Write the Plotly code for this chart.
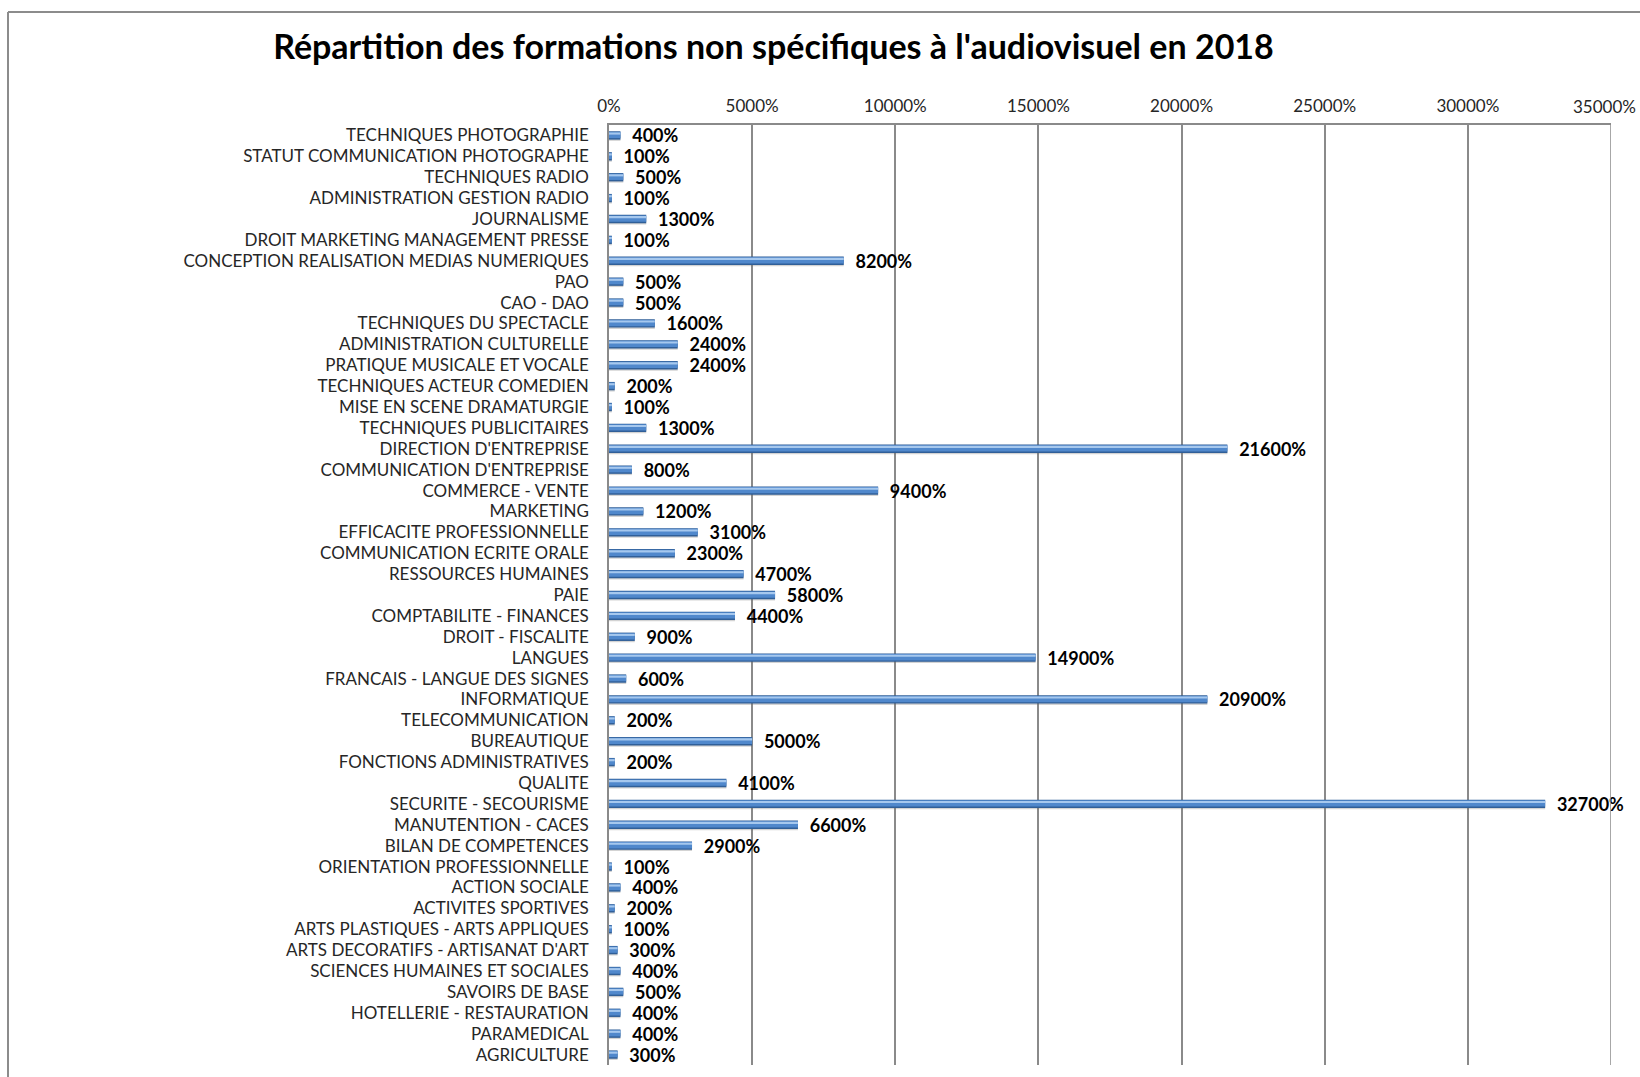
import plotly.graph_objects as go

# Training categories (top to bottom) and their counts, shown as percentages
categories = [
    "TECHNIQUES PHOTOGRAPHIE",
    "STATUT COMMUNICATION PHOTOGRAPHE",
    "TECHNIQUES RADIO",
    "ADMINISTRATION GESTION RADIO",
    "JOURNALISME",
    "DROIT MARKETING MANAGEMENT PRESSE",
    "CONCEPTION REALISATION MEDIAS NUMERIQUES",
    "PAO",
    "CAO - DAO",
    "TECHNIQUES DU SPECTACLE",
    "ADMINISTRATION CULTURELLE",
    "PRATIQUE MUSICALE ET VOCALE",
    "TECHNIQUES ACTEUR COMEDIEN",
    "MISE EN SCENE DRAMATURGIE",
    "TECHNIQUES PUBLICITAIRES",
    "DIRECTION D'ENTREPRISE",
    "COMMUNICATION D'ENTREPRISE",
    "COMMERCE - VENTE",
    "MARKETING",
    "EFFICACITE PROFESSIONNELLE",
    "COMMUNICATION ECRITE ORALE",
    "RESSOURCES HUMAINES",
    "PAIE",
    "COMPTABILITE - FINANCES",
    "DROIT - FISCALITE",
    "LANGUES",
    "FRANCAIS - LANGUE DES SIGNES",
    "INFORMATIQUE",
    "TELECOMMUNICATION",
    "BUREAUTIQUE",
    "FONCTIONS ADMINISTRATIVES",
    "QUALITE",
    "SECURITE - SECOURISME",
    "MANUTENTION - CACES",
    "BILAN DE COMPETENCES",
    "ORIENTATION PROFESSIONNELLE",
    "ACTION SOCIALE",
    "ACTIVITES SPORTIVES",
    "ARTS PLASTIQUES - ARTS APPLIQUES",
    "ARTS DECORATIFS - ARTISANAT D'ART",
    "SCIENCES HUMAINES ET SOCIALES",
    "SAVOIRS DE BASE",
    "HOTELLERIE - RESTAURATION",
    "PARAMEDICAL",
    "AGRICULTURE",
]

values = [
    400, 100, 500, 100, 1300, 100, 8200, 500, 500, 1600,
    2400, 2400, 200, 100, 1300, 21600, 800, 9400, 1200, 3100,
    2300, 4700, 5800, 4400, 900, 14900, 600, 20900, 200, 5000,
    200, 4100, 32700, 6600, 2900, 100, 400, 200, 100, 300,
    400, 500, 400, 400, 300,
]

tick_values = [0, 5000, 10000, 15000, 20000, 25000, 30000, 35000]
tick_labels = ["0%", "5000%", "10000%", "15000%", "20000%", "25000%", "30000%", "35000%"]

title_text = "Répartition des formations non spécifiques à l'audiovisuel en 2018"

W, H = 1640, 1077
L, R, T, B = 609, 1611, 125, 1065  # plot area in pixels


def px_x(p):
    return (p - L) / (R - L)


def px_y(p):
    return (B - p) / (B - T)


FONT = "Lato"
GRID = "#8a8a8a"
TICK_FONT = dict(family=FONT, size=17, color="#262626")

fig = go.Figure()

# soft drop shadow under each bar
fig.add_trace(go.Bar(
    y=categories, x=values, orientation="h",
    width=0.38, offset=-0.12,
    marker=dict(color="rgba(110,110,110,0.30)", line=dict(width=0)),
    hoverinfo="skip", showlegend=False,
))
# dark outer body of the cylinder
fig.add_trace(go.Bar(
    y=categories, x=values, orientation="h",
    width=0.40, offset=-0.20,
    marker=dict(color="#305F98", line=dict(width=0)),
    texttemplate="\u00a0\u00a0%{x:.0f}%", textposition="outside",
    constraintext="none", cliponaxis=False,
    textfont=dict(family=FONT, size=18, color="#000000", weight="bold"),
    hoverinfo="skip", showlegend=False,
))
# mid tone
fig.add_trace(go.Bar(
    y=categories, x=values, orientation="h",
    width=0.30, offset=-0.17,
    marker=dict(color="#5088CC", line=dict(width=0)),
    hoverinfo="skip", showlegend=False,
))
# bright highlight stripe
fig.add_trace(go.Bar(
    y=categories, x=values, orientation="h",
    width=0.10, offset=-0.14,
    marker=dict(color="#A6C8EE", line=dict(width=0)),
    hoverinfo="skip", showlegend=False,
))

# the last tick label sits against the right edge, so it is right-aligned there
axis_text = tick_labels[:-1] + [""]

fig.update_layout(
    width=W, height=H,
    margin=dict(l=L, r=W - R, t=T, b=H - B, pad=0, autoexpand=False),
    paper_bgcolor="white", plot_bgcolor="white",
    barmode="overlay",
    font=dict(family=FONT, color="#262626"),
    title=dict(
        text=title_text, x=773.5 / W, xanchor="center",
        y=1 - 47 / H, yanchor="middle",
        font=dict(family=FONT, size=34, color="#000000", weight="bold"),
    ),
    xaxis=dict(
        side="top", range=[0, 35000],
        tickvals=tick_values, ticktext=axis_text,
        showgrid=True, gridcolor=GRID, gridwidth=1.5,
        showline=True, linecolor=GRID, linewidth=1.5,
        zeroline=False, automargin=False,
        ticks="outside", ticklen=4, tickcolor="rgba(0,0,0,0)",
        tickfont=TICK_FONT,
        fixedrange=True,
    ),
    yaxis=dict(
        autorange="reversed", automargin=False,
        showgrid=False,
        showline=True, linecolor=GRID, linewidth=1.5,
        ticks="outside", ticklen=15, tickcolor="rgba(0,0,0,0)",
        tickfont=TICK_FONT,
        fixedrange=True,
    ),
    annotations=[
        dict(text=tick_labels[-1], xref="paper", yref="paper",
             x=px_x(1638), y=px_y(106), xanchor="right", yanchor="middle",
             showarrow=False, font=TICK_FONT),
    ],
    shapes=[
        # right edge gridline at 35000%
        dict(type="line", xref="x", yref="paper", x0=35000, x1=35000, y0=0, y1=1,
             line=dict(color=GRID, width=1.5)),
        # outer chart frame (left and top edges)
        dict(type="line", xref="paper", yref="paper",
             x0=px_x(8), x1=px_x(8), y0=px_y(12), y1=px_y(1090),
             line=dict(color="#8c8c8c", width=2)),
        dict(type="line", xref="paper", yref="paper",
             x0=px_x(8), x1=px_x(1660), y0=px_y(12), y1=px_y(12),
             line=dict(color="#8c8c8c", width=2)),
    ],
)

fig.write_html("out.html")
